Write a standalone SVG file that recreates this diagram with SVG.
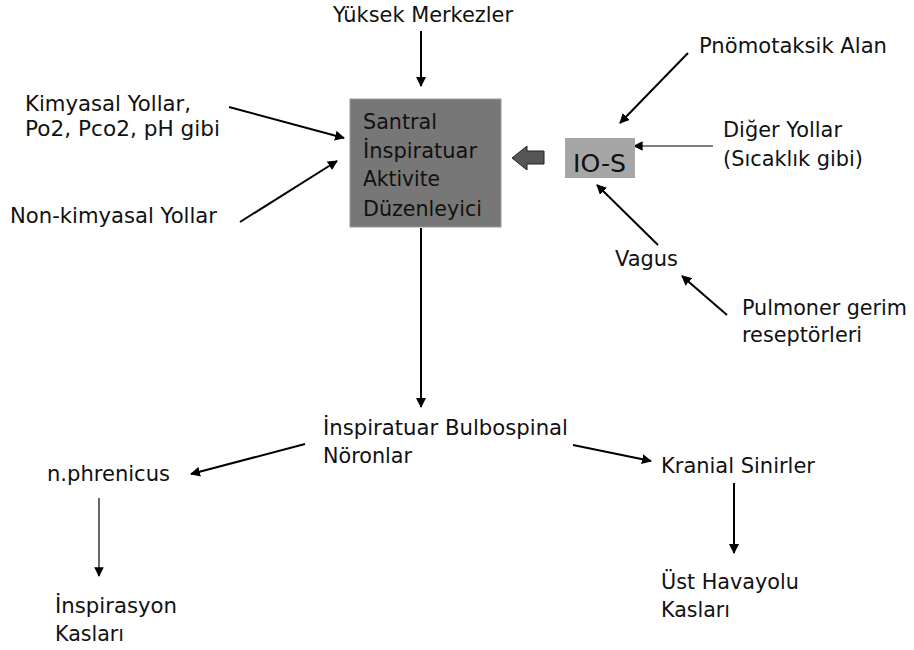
<svg xmlns="http://www.w3.org/2000/svg" width="914" height="650" viewBox="0 0 914 650">
  <defs>
    <style>
      text { font-family: "DejaVu Sans", Verdana, sans-serif; font-size: 21px; fill: #111; }
      .box-text { font-size: 22px; fill: #111; }
      .ios-text { font-size: 25px; fill: #111; }
      .edge { stroke: #000; stroke-width: 2; fill: none; marker-end: url(#head); }
      .edge-thin { stroke: #000; stroke-width: 1.2; fill: none; marker-end: url(#head-thin); }
    </style>
    <marker id="head" viewBox="0 0 10 10" refX="9" refY="5" markerWidth="5" markerHeight="5" orient="auto" markerUnits="strokeWidth">
      <path d="M0,0 L10,5 L0,10 Z" fill="#000"/>
    </marker>
    <marker id="head-thin" viewBox="0 0 10 10" refX="9" refY="5" markerWidth="8" markerHeight="8" orient="auto" markerUnits="strokeWidth">
      <path d="M0,0 L10,5 L0,10 Z" fill="#000"/>
    </marker>
  </defs>

  <rect width="914" height="650" fill="#fff"/>

  <!-- connectors -->
  <g id="connectors">
    <line class="edge" x1="421" y1="31" x2="421" y2="86"/>
    <line class="edge" x1="229" y1="107" x2="344" y2="138"/>
    <line class="edge" x1="240" y1="222" x2="337" y2="161"/>
    <line class="edge" x1="688" y1="53" x2="620" y2="123"/>
    <line class="edge-thin" x1="713" y1="146" x2="634" y2="146"/>
    <line class="edge" x1="658" y1="245" x2="597" y2="185"/>
    <line class="edge" x1="727" y1="315" x2="682" y2="276"/>
    <line class="edge" x1="421" y1="228" x2="421" y2="407"/>
    <line class="edge" x1="305" y1="444" x2="191" y2="474"/>
    <line class="edge" x1="573" y1="445" x2="651" y2="461"/>
    <line class="edge-thin" x1="99" y1="498" x2="99" y2="576"/>
    <line class="edge" x1="734" y1="483" x2="734" y2="553"/>
    <!-- block arrow from IO-S to the central regulator -->
    <path d="M512,158 L527,146 L527,151 L544,151 L544,164 L527,164 L527,170 Z" fill="#555" stroke="#222" stroke-width="1"/>
  </g>

  <!-- nodes -->
  <g id="central">
    <rect x="350" y="99" width="151" height="128" fill="#777" stroke="#999" stroke-width="1"/>
    <text class="box-text" x="363" y="129" textLength="74" lengthAdjust="spacingAndGlyphs">Santral</text>
    <text class="box-text" x="363" y="158" textLength="114" lengthAdjust="spacingAndGlyphs">İnspiratuar</text>
    <text class="box-text" x="363" y="186" textLength="77" lengthAdjust="spacingAndGlyphs">Aktivite</text>
    <text class="box-text" x="363" y="216" textLength="119" lengthAdjust="spacingAndGlyphs">Düzenleyici</text>
  </g>

  <g id="ios">
    <rect x="565" y="138" width="70" height="40" fill="#a6a6a6"/>
    <text class="ios-text" x="573" y="172" textLength="53" lengthAdjust="spacingAndGlyphs">IO-S</text>
  </g>

  <g id="yuksek-merkezler">
    <text x="333" y="22" textLength="180" lengthAdjust="spacingAndGlyphs">Yüksek Merkezler</text>
  </g>

  <g id="kimyasal-yollar">
    <text x="25" y="111" textLength="166" lengthAdjust="spacingAndGlyphs">Kimyasal Yollar,</text>
    <text x="25" y="136" textLength="195" lengthAdjust="spacingAndGlyphs">Po2, Pco2, pH gibi</text>
  </g>

  <g id="non-kimyasal-yollar">
    <text x="10" y="223" textLength="207" lengthAdjust="spacingAndGlyphs">Non-kimyasal Yollar</text>
  </g>

  <g id="pnomotaksik-alan">
    <text x="699" y="53" textLength="188" lengthAdjust="spacingAndGlyphs">Pnömotaksik Alan</text>
  </g>

  <g id="diger-yollar">
    <text x="723" y="137" textLength="119" lengthAdjust="spacingAndGlyphs">Diğer Yollar</text>
    <text x="723" y="166" textLength="140" lengthAdjust="spacingAndGlyphs">(Sıcaklık gibi)</text>
  </g>

  <g id="vagus">
    <text x="615" y="266" textLength="63" lengthAdjust="spacingAndGlyphs">Vagus</text>
  </g>

  <g id="pulmoner-gerim">
    <text x="742" y="315" textLength="165" lengthAdjust="spacingAndGlyphs">Pulmoner gerim</text>
    <text x="742" y="342" textLength="120" lengthAdjust="spacingAndGlyphs">reseptörleri</text>
  </g>

  <g id="bulbospinal">
    <text x="323" y="435" textLength="245" lengthAdjust="spacingAndGlyphs">İnspiratuar Bulbospinal</text>
    <text x="323" y="463" textLength="89" lengthAdjust="spacingAndGlyphs">Nöronlar</text>
  </g>

  <g id="phrenicus">
    <text x="47" y="481" textLength="123" lengthAdjust="spacingAndGlyphs">n.phrenicus</text>
  </g>

  <g id="inspirasyon-kaslari">
    <text x="55" y="613" textLength="122" lengthAdjust="spacingAndGlyphs">İnspirasyon</text>
    <text x="55" y="641" textLength="69" lengthAdjust="spacingAndGlyphs">Kasları</text>
  </g>

  <g id="kranial-sinirler">
    <text x="661" y="473" textLength="154" lengthAdjust="spacingAndGlyphs">Kranial Sinirler</text>
  </g>

  <g id="ust-havayolu-kaslari">
    <text x="661" y="589" textLength="138" lengthAdjust="spacingAndGlyphs">Üst Havayolu</text>
    <text x="661" y="617" textLength="69" lengthAdjust="spacingAndGlyphs">Kasları</text>
  </g>
</svg>
